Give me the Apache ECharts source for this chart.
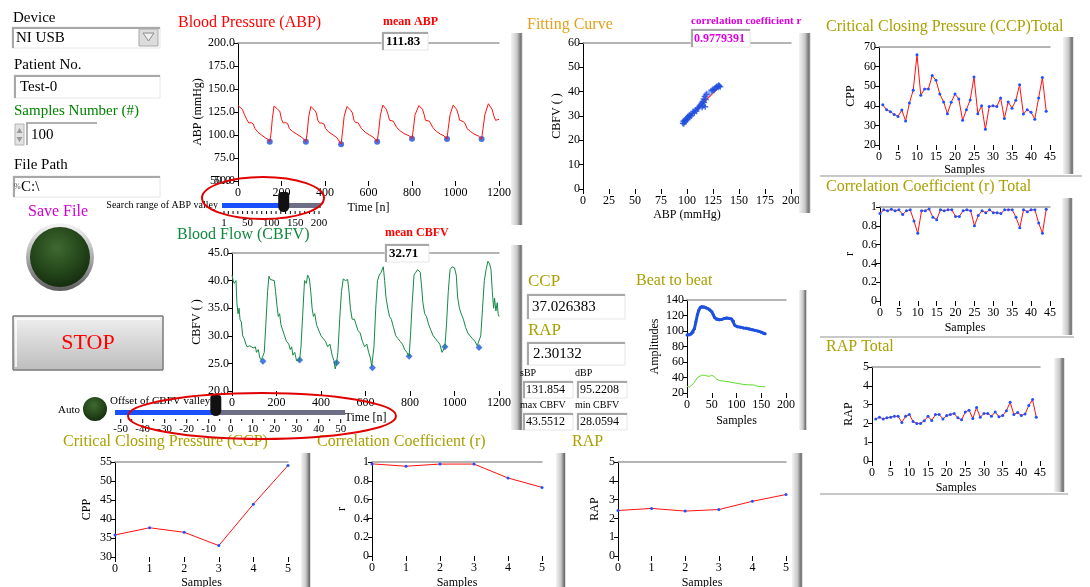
<!DOCTYPE html>
<html>
<head>
<meta charset="utf-8">
<script src="https://cdn.jsdelivr.net/npm/echarts@6/dist/echarts.min.js"></script>
<style>
html, body { margin: 0; padding: 0; background: #fff; }
#main { width: 1090px; height: 587px; }
</style>
</head>
<body>
<div id="main"></div>
<script>
var FONT = 'Liberation Serif';

// ---- values ----
var abpWave = [
  [0,132],[10,130],[20,128],[30,122],[40,117],[50,113],[60,113.5],[70,112],[78,107],[92,103],[108,100],[125,97],[140,95],[146,92.7],
  [152,102],[158,118],[166,131.5],[174,130],[182,128],[192,126],[200,117],[208,113],[218,113.5],[228,112.5],[236,107],[250,104],[270,101],[290,98],[305,95],[312,92.7],
  [318,102],[325,120],[335,131],[343,129.5],[352,127],[360,124],[367,116],[375,113],[385,113],[395,112],[403,107],[418,103],[438,100],[455,97],[474,90],
  [480,102],[488,120],[501,131],[510,129.5],[518,127],[526,124],[533,116],[541,113.5],[551,113.5],[560,112],[568,107],[585,103],[605,100],[625,97],[640,92.7],
  [647,105],[655,122],[666,132.5],[674,130.5],[682,128],[690,122],[697,116],[705,114],[714,115],[722,113],[730,108],[748,104],[768,101],[788,99],[800,96],
  [806,106],[814,122],[832,132],[840,130],[848,128],[856,122],[862,116],[870,114],[880,115],[888,113],[896,108],[912,104],[930,101],[948,99],[961,95.6],
  [966,106],[975,122],[989,132.5],[997,130.5],[1005,128],[1013,122],[1019,116],[1027,114],[1037,114.5],[1045,112],[1053,107],[1068,104],[1085,101],[1105,99],[1120,95.6],
  [1126,106],[1135,122],[1151,134],[1160,132],[1168,128],[1176,121],[1184,116],[1192,115.5],[1200,117]
];
var abpValleys = [[146,92.7],[312,92.7],[474,90],[640,92.7],[800,96],[961,95.6],[1120,95.6]];
var abpTicks = [50, 75, 100, 125, 150, 175, 200];

var cbfvWave = [
  [0,41],[5,40],[10,39.5],[18,40],[22,36],[27,34],[32,35],[36,33],[42,32.5],[48,30],[55,29.5],[62,28.5],[68,28],[80,28.2],[95,27.8],[105,28],[110,27],[118,27.5],[125,26],[132,25.6],[139,25.4],
  [145,27],[152,32],[160,38],[166,40.8],[172,40.2],[180,40.3],[190,40],[196,38],[202,35.5],[208,33.5],[214,34],[220,32],[228,31],[236,30],[245,29],[255,28.5],[262,27.5],[268,28],[274,26.5],[282,27],[290,25.5],[297,25.3],[304,25.6],
  [310,28],[318,34],[326,40],[334,39.5],[340,41],[348,40.3],[354,38],[360,35],[366,33.5],[372,34],[380,32],[390,31],[400,30],[410,29.5],[420,29],[430,28],[440,28.5],[450,26.5],[458,25.5],[464,24],[470,25.1],
  [476,27],[484,33],[492,38],[500,40.3],[510,40],[520,40.2],[526,38],[532,35],[540,33],[550,33],[558,32],[566,31],[576,30.5],[586,29],[596,28],[606,28.5],[614,27],[622,26],[628,24.5],[631,24.2],
  [638,28],[646,35],[654,40],[662,41],[670,41.5],[680,42.5],[686,40],[692,37],[700,35],[708,33.5],[716,33],[726,31.5],[736,30],[746,29.5],[756,29],[766,28.5],[776,27.5],[786,27],[796,26.3],
  [802,30],[810,36],[818,41],[826,41.5],[834,42],[846,41.5],[852,39],[858,36],[866,34],[874,33.5],[884,32],[894,31],[904,30],[914,29.5],[924,29],[934,28.5],[944,27],[950,26.8],[957,28],
  [964,32],[972,38],[980,42],[990,42.5],[1000,42.3],[1008,41],[1014,37],[1022,35],[1030,34],[1040,33],[1050,31.5],[1060,30.5],[1070,30],[1080,29.5],[1092,29],[1102,28.2],[1110,27.9],
  [1118,30],[1126,35],[1134,40],[1142,42],[1150,43.5],[1158,43],[1164,42],[1170,38],[1176,35],[1180,36.8],[1186,34.5],[1192,36],[1196,34],[1200,33.5]
];
var cbfvValleys = [[139,25.4],[304,25.6],[470,25.1],[631,24.2],[796,26.3],[957,28.0],[1110,27.9]];

var fitPoints = [
  [96,27],[96.5,27.8],[97,26.8],[97.5,28.2],[98,27.5],[98.5,28.6],[99,28],[100,29.2],[100.5,28.6],[101,29.8],
  [102,30.2],[102.5,29.4],[103,30.5],[104,30],[105,31],[106,31.8],[107,31.2],[108,32.5],[109,32],[110,33],
  [111,33.4],[112,34],[113,34.6],[114,35.2],[114.5,33.6],[115,36],[115.5,34.2],[116,37],[116.5,35.5],[117,38],
  [117.5,33.8],[118,36.8],[118.5,38.8],[124,40.5],[125,41],[126,40.6],[127,41.3],[128,41.8],[129,42.2],[130,41.8],
  [130.5,42.6],[131,42.3],[132,42]
];
var fitPointsLight = [[117.5,38.5],[119,39.5],[120,38.8],[121,40],[122,39.4],[123,40.6],[124.5,40.2]];
var fitLine = [[97,27.5],[131,42]];

var beatAbp = [
  [0,95],[4,94.8],[8,96],[12,98.5],[15,103],[18,112],[21,121],[24,127],[27,130.5],[30,131.5],[34,131],[38,130],
  [42,129],[46,127.5],[50,125],[53,121],[56,117],[60,115],[65,114.5],[70,115],[75,116],[80,116.8],[85,116.3],
  [90,115.5],[94,113],[97,107],[102,105.5],[108,105],[114,104],[120,103.5],[126,102.5],[132,101.5],[138,100.8],
  [144,99.8],[150,98.5],[155,97],[158,96.5]
];
var beatCbfv = [
  [0,28.5],[5,27.8],[9,29],[13,32],[17,36],[21,40],[25,42],[30,43],[35,43],[40,42],[45,41.5],[50,43],[55,41],
  [60,38],[66,36],[72,35.5],[80,35],[88,34],[96,33],[105,32],[115,31],[125,30.5],[135,30.5],[140,29],[150,28.2],[158,28]
];

var ccpTotal = [40.5,38,37,35.6,34.6,37.8,32.3,41.4,47.9,66,45.4,48.6,48.6,55.4,53,46,42,36,41.8,46,43.5,32.6,
  38,43,54.7,36,40,28,39.6,40,39.6,44,33.5,42,38.8,42.8,50.7,35.8,38,36.7,33.2,44,54.4,37.2];          // samples 1..44
var rTotal = [0.93,0.97,0.96,0.975,0.96,0.97,0.92,0.96,0.97,0.85,0.72,0.96,0.96,0.98,0.89,0.865,0.97,0.96,0.97,
  0.97,0.90,0.90,0.96,0.97,0.96,0.80,0.91,0.96,0.94,0.97,0.94,0.94,0.93,0.97,0.97,0.97,0.89,0.78,0.97,0.95,
  0.97,0.97,0.83,0.72,0.975];                                                                           // samples 0..44
var rapTotal = [2.24,2.33,2.24,2.3,2.33,2.38,2.38,2.05,2.38,2.47,2.1,2.0,2.0,2.14,2.38,2.15,2.47,2.47,2.24,2.42,
  2.47,2.53,2.3,2.19,2.61,2.7,2.26,2.84,2.33,2.53,2.53,2.38,2.61,2.35,2.42,2.67,3.13,2.47,2.58,2.42,2.5,
  2.95,3.27,2.33];                                                                                      // samples 1..44

var ccpRecent = [35.8, 37.7, 36.5, 33, 43.9, 54.1];
var rRecent = [0.98, 0.955, 0.978, 0.978, 0.83, 0.73];
var rapRecent = [2.42, 2.53, 2.39, 2.47, 2.91, 3.27];

var searchTicks = [1, 50, 100, 150, 200];
var searchValue = 125;
var offsetTicks = [-50, -40, -30, -20, -10, 0, 10, 20, 30, 40, 50];
var offsetValue = -7;

// ---- layout ----
var grids = [
  {left: 238, top: 43, width: 261, height: 138},  // ABP
  {left: 232, top: 253, width: 267, height: 138}, // CBFV
  {left: 583, top: 43, width: 208, height: 146},  // fitting curve
  {left: 879, top: 47, width: 171, height: 98},   // CCP total
  {left: 880, top: 207, width: 170, height: 94},  // r total
  {left: 872, top: 367, width: 168, height: 94},  // RAP total
  {left: 687, top: 300, width: 99, height: 93},   // beat to beat
  {left: 115, top: 462, width: 173, height: 95},  // CCP
  {left: 372, top: 462, width: 170, height: 94},  // r
  {left: 618, top: 462, width: 168, height: 94}   // RAP
];
grids.forEach(function (gr) { gr.outerBoundsMode = 'none'; });

// xmin, xmax, xint, xname, xgap, ymin, ymax, yint, yname, ygap, decimals
var axisSpec = [
  [0, 1200, 200, 'Time [n]', 21, 50, 200, 25, 'ABP (mmHg)', 33, 1],
  [0, 1200, 200, 'Time [n]', 21, 20, 45, 5, 'CBFV ( )', 29, 1],
  [0, 200, 25, 'ABP (mmHg)', 20, 0, 60, 10, 'CBFV ( )', 20, 0],
  [0, 45, 5, 'Samples', 17, 20, 70, 10, 'CPP', 22, 0],
  [0, 45, 5, 'Samples', 21, 0, 1, 0.2, 'r', 24, 0],
  [0, 45, 5, 'Samples', 21, 0, 5, 1, 'RAP', 17, 0],
  [0, 200, 50, 'Samples', 22, 20, 140, 20, 'Amplitudes', 26, 0],
  [0, 5, 1, 'Samples', 20, 30, 55, 5, 'CPP', 22, 0],
  [0, 5, 1, 'Samples', 21, 0, 1, 0.2, 'r', 24, 0],
  [0, 5, 1, 'Samples', 21, 0, 5, 1, 'RAP', 17, 0]
];

var xAxes = [], yAxes = [];
axisSpec.forEach(function (s, i) {
  var dec = s[10];
  xAxes.push({
    type: 'value', gridIndex: i, min: s[0], max: s[1], interval: s[2],
    name: s[3], nameLocation: 'middle', nameGap: s[4],
    nameTextStyle: {fontFamily: FONT, fontSize: 12, color: '#000'},
    axisLine: {show: false, onZero: false},
    axisTick: {show: true, length: 5, lineStyle: {color: '#000'}},
    axisLabel: {fontFamily: FONT, fontSize: 12, color: '#000', margin: 6,
      showMinLabel: true, showMaxLabel: true, hideOverlap: false,
      formatter: function (v) { return String(v); }},
    splitLine: {show: false}
  });
  yAxes.push({
    type: 'value', gridIndex: i, min: s[5], max: s[6], interval: s[7],
    name: s[8], nameLocation: 'middle', nameGap: s[9],
    nameTextStyle: {fontFamily: FONT, fontSize: 12, color: '#000'},
    axisLine: {show: true, onZero: false, lineStyle: {color: '#000', width: 1}},
    axisTick: {show: true, length: 4, lineStyle: {color: '#000'}},
    axisLabel: {fontFamily: FONT, fontSize: 12, color: '#000', margin: 3,
      showMinLabel: true, showMaxLabel: true, hideOverlap: false,
      formatter: function (v) { return dec ? v.toFixed(dec) : String(Math.round(v * 100) / 100); }},
    splitLine: {show: false}
  });
});
// gray top edge of each plot
axisSpec.forEach(function (s, i) {
  xAxes.push({
    type: 'value', gridIndex: i, position: 'top', min: s[0], max: s[1],
    axisLine: {show: true, onZero: false, lineStyle: {color: '#9c9c9c', width: 1.5}},
    axisTick: {show: false}, axisLabel: {show: false}, splitLine: {show: false}
  });
});

function idx(arr, start) { return arr.map(function (v, i) { return [i + start, v]; }); }

function markedLine(i, data) {
  return {
    type: 'line', xAxisIndex: i, yAxisIndex: i, data: data,
    lineStyle: {color: '#ff1010', width: 1},
    symbol: 'circle', symbolSize: 3, itemStyle: {color: '#1e50ff'}
  };
}

var series = [
  {type: 'line', xAxisIndex: 0, yAxisIndex: 0, data: abpWave, symbol: 'none', lineStyle: {color: '#ff1010', width: 1}},
  {type: 'scatter', xAxisIndex: 0, yAxisIndex: 0, data: abpValleys, symbol: 'circle', symbolSize: 6, itemStyle: {color: '#1e50d8'}},
  {type: 'line', xAxisIndex: 1, yAxisIndex: 1, data: cbfvWave, symbol: 'none', lineStyle: {color: '#138a45', width: 1}},
  {type: 'scatter', xAxisIndex: 1, yAxisIndex: 1, data: cbfvValleys, symbol: 'diamond', symbolSize: 7, itemStyle: {color: '#1e5ad8'}},
  {type: 'line', xAxisIndex: 2, yAxisIndex: 2, data: fitLine, symbol: 'none', lineStyle: {color: '#ff3030', width: 1.5}, z: 1},
  {type: 'scatter', xAxisIndex: 2, yAxisIndex: 2, data: fitPointsLight, symbol: 'path://M3,0H5V3H8V5H5V8H3V5H0V3H3Z', symbolSize: 5, itemStyle: {color: '#7f9cff'}},
  {type: 'scatter', xAxisIndex: 2, yAxisIndex: 2, data: fitPoints, symbol: 'path://M3,0H5V3H8V5H5V8H3V5H0V3H3Z', symbolSize: 6, itemStyle: {color: '#1f4fe0'}},
  markedLine(3, idx(ccpTotal, 1)),
  markedLine(4, idx(rTotal, 0)),
  markedLine(5, idx(rapTotal, 1)),
  {type: 'line', xAxisIndex: 6, yAxisIndex: 6, data: beatCbfv, symbol: 'none', lineStyle: {color: '#5fdc2a', width: 1}},
  {type: 'line', xAxisIndex: 6, yAxisIndex: 6, data: beatAbp, symbol: 'circle', symbolSize: 3, itemStyle: {color: '#1e50e0'}, lineStyle: {color: '#1e50e0', width: 3}},
  markedLine(7, idx(ccpRecent, 0)),
  markedLine(8, idx(rRecent, 0)),
  markedLine(9, idx(rapRecent, 0))
];

// ---- front panel decoration ----
var g = [];
function T(x, y, s, size, color, extra) {
  var st = {text: s, fontFamily: FONT, fontSize: size, fill: color || '#000', verticalAlign: 'middle', align: 'left'};
  if (extra) for (var k in extra) st[k] = extra[k];
  g.push({type: 'text', x: x, y: y, z: 60, style: st});
}
function R(x, y, w, h, fill, stroke, lw, z, r) {
  g.push({type: 'rect', z: z || 40, shape: {x: x, y: y, width: w, height: h, r: r || 0}, style: {fill: fill, stroke: stroke || null, lineWidth: lw || 1}});
}
function L(pts, color, w, z) {
  g.push({type: 'polyline', z: z || 41, shape: {points: pts}, style: {stroke: color, lineWidth: w || 1, fill: null}});
}
function BOX(x, y, w, h) {
  R(x, y, w, h, '#fff', '#e6e6e6', 1, 45);
  L([[x + 1, y + h], [x + 1, y + 1], [x + w, y + 1]], '#a8a8a8', 2, 46);
}
function SIDE(x, y, w, h) {
  R(x, y, w, h, new echarts.graphic.LinearGradient(0, 0, 1, 0, [
    {offset: 0, color: '#f4f4f4'}, {offset: 0.5, color: '#c8c8c8'}, {offset: 0.72, color: '#8a8a8a'},
    {offset: 0.85, color: '#6e6e6e'}, {offset: 0.93, color: '#d0d0d0'}, {offset: 1, color: '#ffffff'}]), null, 1, 30);
}
function LED(cx, cy, r, bezel) {
  if (bezel) {
    g.push({type: 'circle', z: 40, shape: {cx: cx, cy: cy, r: r + 4}, style: {fill: new echarts.graphic.LinearGradient(0, 0, 0, 1, [
      {offset: 0, color: '#f6f6f6'}, {offset: 0.35, color: '#c4c4c4'}, {offset: 1, color: '#5c5c5c'}])}});
  }
  g.push({type: 'circle', z: 41, shape: {cx: cx, cy: cy, r: r}, style: {fill: new echarts.graphic.RadialGradient(0.45, 0.35, 0.75, [
    {offset: 0, color: '#3f6a30'}, {offset: 0.55, color: '#24461a'}, {offset: 1, color: '#10240b'}])}});
}

// left controls
T(13, 18, 'Device', 15);
BOX(12, 27, 148, 21);
T(16, 38, 'NI USB', 15);
R(139, 29, 19, 17, '#dcdcdc', '#a8a8a8', 1, 47);
g.push({type: 'polygon', z: 48, shape: {points: [[143, 33], [154, 33], [148.5, 41]]}, style: {fill: '#eeeeee', stroke: '#8c8c8c', lineWidth: 1}});
T(14, 65, 'Patient No.', 15);
BOX(14, 75, 146, 23);
T(20, 87, 'Test-0', 15);
T(14, 111, 'Samples Number (#)', 15, '#008000');
R(15, 124, 9, 21, '#e2e2e2', '#b4b4b4', 1, 45);
g.push({type: 'polygon', z: 46, shape: {points: [[16.5, 133], [22.5, 133], [19.5, 128]]}, style: {fill: '#9a9a9a'}});
g.push({type: 'polygon', z: 46, shape: {points: [[16.5, 137], [22.5, 137], [19.5, 142]]}, style: {fill: '#9a9a9a'}});
L([[27, 145], [27, 123], [97, 123]], '#b0b0b0', 2, 46);
T(31, 135, '100', 15);
T(14, 165, 'File Path', 15);
BOX(13, 176, 147, 21);
T(14, 187, '%', 8, '#444');
T(21, 187, 'C:\\', 15);
T(28, 212, 'Save File', 16, '#d000d0');
LED(60, 257, 30, true);
R(13, 316, 150, 54, new echarts.graphic.LinearGradient(0, 0, 0, 1, [
  {offset: 0, color: '#f0f0f0'}, {offset: 0.5, color: '#d6d6d6'}, {offset: 1, color: '#bdbdbd'}]), '#7a7a7a', 1, 40);
L([[16, 367], [16, 319], [160, 319]], '#ffffff', 1.5, 41);
T(88, 343, 'STOP', 22, '#ff0000', {align: 'center'});
T(58, 410, 'Auto', 11);
LED(95, 409, 12, false);

// CBFV valley offset slider
function offX(v) { return 120.7 + (v + 50) * 2.2; }
T(110, 401, 'Offset of CBFV valley', 11);
R(115, 410, offX(offsetValue) - 115, 5, '#1a4fff', null, 1, 42);
R(offX(offsetValue), 410, 345 - offX(offsetValue), 5, '#6e6e86', null, 1, 42);
R(offX(offsetValue) - 5, 395, 11, 21, '#111', null, 1, 44, [3, 3, 6, 6]);
for (var v = -50; v <= 50; v += 5) {
  L([[offX(v), 419], [offX(v), v % 10 === 0 ? 423 : 421]], '#000', 1, 42);
}
offsetTicks.forEach(function (t) { T(offX(t), 429, String(t), 11, '#000', {align: 'center'}); });

// ABP valley search slider
function srX(v) { return 224 + (v - 1) / 199 * 95; }
T(218, 205, 'Search range of ABP valley', 10, '#000', {align: 'right'});
R(222, 203, srX(searchValue) - 222, 5, '#1a4fff', null, 1, 42);
R(srX(searchValue), 203, 321 - srX(searchValue), 5, '#6e6e86', null, 1, 42);
R(srX(searchValue) - 5, 192, 11, 20, '#111', null, 1, 44, [3, 3, 6, 6]);
for (var s = 0; s <= 200; s += 10) {
  L([[srX(Math.max(s, 1)), 211], [srX(Math.max(s, 1)), 214]], '#000', 1, 42);
}
searchTicks.forEach(function (t) { T(srX(t), 223, String(t), 11, '#000', {align: 'center'}); });

// red marker ellipses
g.push({type: 'ellipse', z: 70, shape: {cx: 263, cy: 198, rx: 61, ry: 21}, style: {fill: null, stroke: '#e00000', lineWidth: 2}});
g.push({type: 'ellipse', z: 70, shape: {cx: 262, cy: 416, rx: 134, ry: 23}, style: {fill: null, stroke: '#e00000', lineWidth: 2}});

// chart panels
SIDE(511, 33, 12, 192);
SIDE(511, 245, 12, 185);
SIDE(799, 33, 12, 180);
SIDE(1063, 37, 11, 137);
SIDE(1062, 198, 11, 137);
SIDE(1054, 358, 11, 134);
SIDE(799, 290, 8, 140);
SIDE(301, 453, 10, 134);
SIDE(556, 453, 10, 134);
SIDE(792, 453, 11, 134);
L([[820, 176], [1082, 176]], '#c8c8c8', 2, 30);
L([[820, 337], [1074, 337]], '#c8c8c8', 2, 30);
L([[820, 494], [1068, 494]], '#c8c8c8', 2, 30);

// titles and indicators
T(178, 23, 'Blood Pressure (ABP)', 16, '#ff0000');
T(383, 22, 'mean ABP', 12, '#ff0000', {fontWeight: 'bold'});
BOX(382, 32, 46, 18);
T(386, 42, '111.83', 13, '#000', {fontWeight: 'bold'});
T(177, 235, 'Blood Flow (CBFV)', 16, '#0e8a3c');
T(385, 233, 'mean CBFV', 12, '#ff0000', {fontWeight: 'bold'});
BOX(385, 244, 44, 18);
T(389, 254, '32.71', 13, '#000', {fontWeight: 'bold'});
T(527, 25, 'Fitting Curve', 16, '#e2a11c');
T(691, 21, 'correlation coefficient r', 11, '#e000e0', {fontWeight: 'bold'});
BOX(691, 29, 59, 18);
T(694, 39, '0.9779391', 12, '#e000e0', {fontWeight: 'bold'});
T(826, 27, 'Critical Closing Pressure (CCP)Total', 16, '#aaa000');
T(826, 187, 'Correlation Coefficient (r) Total', 16, '#aaa000');
T(826, 347, 'RAP Total', 16, '#aaa000');
T(528, 282, 'CCP', 17, '#aaa000');
BOX(527, 294, 98, 25);
T(532, 307, '37.026383', 15);
T(528, 331, 'RAP', 17, '#aaa000');
BOX(527, 342, 98, 23);
T(533, 354, '2.30132', 15);
T(520, 373, 'sBP', 10);
T(575, 373, 'dBP', 10);
BOX(523, 381, 50, 17);
BOX(577, 381, 50, 17);
T(526, 390, '131.854', 12);
T(580, 390, '95.2208', 12);
T(520, 405, 'max CBFV', 10);
T(575, 405, 'min CBFV', 10);
BOX(523, 413, 50, 17);
BOX(577, 413, 50, 17);
T(526, 422, '43.5512', 12);
T(580, 422, '28.0594', 12);
T(636, 281, 'Beat to beat', 16, '#aaa000');
T(63, 442, 'Critical Closing Pressure (CCP)', 16, '#aaa000');
T(317, 442, 'Correlation Coefficient (r)', 16, '#aaa000');
T(572, 442, 'RAP', 16, '#aaa000');

var chart = echarts.init(document.getElementById('main'));
chart.setOption({
  animation: false,
  backgroundColor: '#ffffff',
  grid: grids,
  xAxis: xAxes,
  yAxis: yAxes,
  series: series,
  graphic: {elements: g}
});

// the bottom pressure label gets dropped next to the time axis; put it back at the axis position
var p50 = chart.convertToPixel({xAxisIndex: 0, yAxisIndex: 0}, [0, abpTicks[0]]);
T(p50[0] - 7, p50[1], abpTicks[0].toFixed(1), 12, '#000', {align: 'right'});
chart.setOption({graphic: {elements: g}});
</script>
</body>
</html>
